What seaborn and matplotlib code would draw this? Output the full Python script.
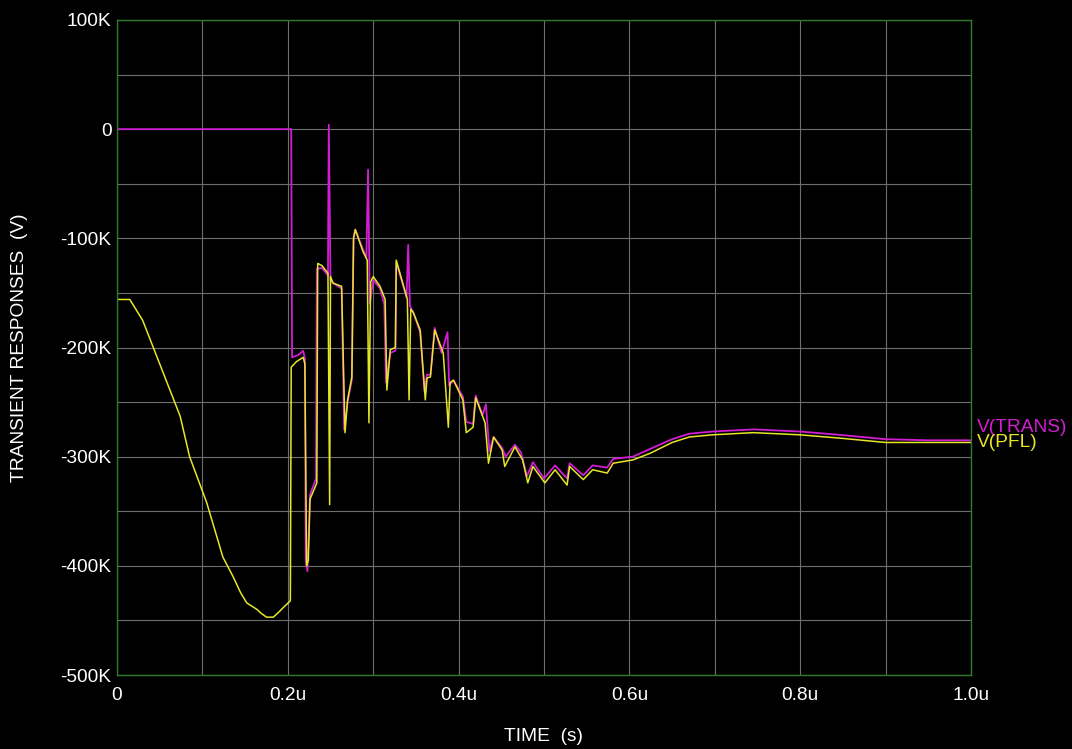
import numpy as np
import pandas as pd
import matplotlib
matplotlib.use("Agg")
import matplotlib.pyplot as plt
import matplotlib.transforms as mtransforms
import seaborn as sns

# ---- data (time in microseconds, voltage in kV) ----
t_pfl = [0.000, 0.015, 0.030, 0.042, 0.055, 0.074, 0.085, 0.105, 0.124, 0.136, 0.145, 0.152,
         0.164, 0.168, 0.175, 0.183, 0.190, 0.195, 0.203, 0.204, 0.210, 0.218, 0.220, 0.222,
         0.224, 0.226, 0.234, 0.235, 0.240, 0.247, 0.249, 0.250, 0.253, 0.263, 0.267, 0.270,
         0.275, 0.277, 0.279, 0.288, 0.293, 0.295, 0.297, 0.300, 0.308, 0.314, 0.316, 0.320,
         0.326, 0.327, 0.340, 0.342, 0.344, 0.347, 0.355, 0.361, 0.363, 0.367, 0.372, 0.382,
         0.388, 0.390, 0.394, 0.405, 0.409, 0.417, 0.420, 0.431, 0.435, 0.441, 0.451, 0.454,
         0.466, 0.475, 0.481, 0.487, 0.501, 0.513, 0.527, 0.530, 0.546, 0.557, 0.574, 0.581,
         0.604, 0.624, 0.650, 0.670, 0.697, 0.745, 0.800, 0.846, 0.900, 0.950, 1.000]
v_pfl = [-156, -156, -175, -199, -225, -263, -300, -342, -392, -410, -425, -434,
         -440, -443, -447, -447, -442, -438, -432, -218, -213, -209, -215, -400,
         -395, -339, -324, -123, -125, -132, -344, -135, -141, -144, -278, -248,
         -227, -100, -92, -112, -120, -269, -140, -135, -144, -156, -239, -202,
         -200, -120, -156, -248, -165, -168, -184, -248, -228, -227, -184, -205,
         -273, -232, -230, -248, -278, -273, -246, -269, -306, -282, -294, -309,
         -291, -303, -324, -309, -324, -312, -326, -309, -321, -312, -315, -306,
         -303, -297, -287, -282, -280, -278, -280, -283, -287, -287, -287]

t_trans = [0.000, 0.204, 0.205, 0.212, 0.218, 0.220, 0.221, 0.223, 0.226, 0.233, 0.234, 0.240,
           0.247, 0.248, 0.250, 0.253, 0.263, 0.266, 0.270, 0.275, 0.277, 0.279, 0.288, 0.292,
           0.294, 0.296, 0.300, 0.308, 0.313, 0.315, 0.320, 0.326, 0.327, 0.339, 0.341, 0.343,
           0.347, 0.355, 0.360, 0.363, 0.367, 0.372, 0.380, 0.387, 0.389, 0.394, 0.405, 0.409,
           0.417, 0.420, 0.428, 0.432, 0.436, 0.441, 0.451, 0.455, 0.466, 0.473, 0.480, 0.487,
           0.500, 0.513, 0.527, 0.530, 0.546, 0.557, 0.574, 0.581, 0.604, 0.624, 0.650, 0.670,
           0.697, 0.745, 0.800, 0.846, 0.900, 0.950, 1.000]
v_trans = [0, 0, -209, -207, -203, -210, -395, -405, -335, -320, -128, -127,
           -134, 4, -138, -141, -146, -275, -250, -230, -100, -92, -110, -118,
           -37, -160, -138, -146, -160, -232, -205, -203, -122, -154, -106, -162,
           -168, -186, -240, -225, -225, -182, -205, -186, -235, -230, -245, -268,
           -270, -244, -262, -252, -295, -282, -292, -300, -289, -296, -318, -305,
           -320, -308, -320, -306, -317, -308, -310, -302, -300, -293, -284, -279,
           -277, -275, -277, -280, -284, -285, -285]

x_ticks = [0.0, 0.2, 0.4, 0.6, 0.8, 1.0]
x_labels = ["0", "0.2u", "0.4u", "0.6u", "0.8u", "1.0u"]
y_ticks = [100, 0, -100, -200, -300, -400, -500]
y_labels = ["100K", "0", "-100K", "-200K", "-300K", "-400K", "-500K"]

# ---- styling ----
sns.set_theme(style="dark")
plt.rcParams['font.family'] = ['Liberation Sans', 'DejaVu Sans']

MAG = "#d21ed2"
YEL = "#e6e628"
GRID = "#6e6e6e"
SPINE = "#2e7a2e"
FS = 13.8

fig = plt.figure(figsize=(10.72, 7.49), dpi=100, facecolor="black")
ax = fig.add_axes([117/1072, 1 - 675/749, (971 - 117)/1072, (675 - 20)/749])
ax.set_facecolor("black")

df_trans = pd.DataFrame({"t": t_trans, "v": v_trans})
df_pfl = pd.DataFrame({"t": t_pfl, "v": v_pfl})
sns.lineplot(data=df_trans, x="t", y="v", sort=False, estimator=None, color=MAG, lw=1.3, ax=ax)
sns.lineplot(data=df_pfl, x="t", y="v", sort=False, estimator=None, color=YEL, lw=1.1, ax=ax)

ax.set_xlim(0, 1.0)
ax.set_ylim(-500, 100)
ax.set_xticks(x_ticks)
ax.set_xticklabels(x_labels)
ax.set_yticks(y_ticks)
ax.set_yticklabels(y_labels)
ax.set_xticks(np.arange(0, 1.0001, 0.1), minor=True)
ax.set_yticks(np.arange(-500, 100.1, 50), minor=True)
ax.grid(True, which="both", color=GRID, lw=0.8)
ax.tick_params(which="both", length=0, colors="white", labelsize=FS)
ax.tick_params(axis="y", pad=4)
ax.tick_params(axis="x", pad=9)
for s in ax.spines.values():
    s.set_visible(True)
    s.set_color(SPINE)
    s.set_linewidth(1.0)

ax.set_xlabel("TIME  (s)", color="white", fontsize=FS, labelpad=17)
ax.set_ylabel("TRANSIENT RESPONSES  (V)", color="white", fontsize=FS, labelpad=23)

trans = mtransforms.blended_transform_factory(ax.transAxes, ax.transData)
ax.text(1.007, -277, "V(TRANS)", color=MAG, fontsize=FS, transform=trans, va="baseline", ha="left")
ax.text(1.007, -291, "V(PFL)", color=YEL, fontsize=FS, transform=trans, va="baseline", ha="left")

fig.savefig("out.png", dpi=100, facecolor="black")
